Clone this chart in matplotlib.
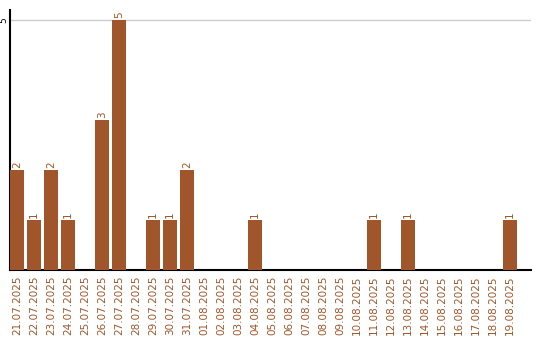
import matplotlib
matplotlib.use('Agg')
import matplotlib.pyplot as plt

dates = ['21.07.2025', '22.07.2025', '23.07.2025', '24.07.2025', '25.07.2025',
         '26.07.2025', '27.07.2025', '28.07.2025', '29.07.2025', '30.07.2025',
         '31.07.2025', '01.08.2025', '02.08.2025', '03.08.2025', '04.08.2025',
         '05.08.2025', '06.08.2025', '07.08.2025', '08.08.2025', '09.08.2025',
         '10.08.2025', '11.08.2025', '12.08.2025', '13.08.2025', '14.08.2025',
         '15.08.2025', '16.08.2025', '17.08.2025', '18.08.2025', '19.08.2025']
counts = [2, 1, 2, 1, 0, 3, 5, 0, 1, 1, 2, 0, 0, 0, 1,
          0, 0, 0, 0, 0, 0, 1, 0, 1, 0, 0, 0, 0, 0, 1]

brown = '#a0562a'

fig = plt.figure(figsize=(5.4, 3.4), dpi=100)
ax = fig.add_axes([10/540, 1-270/340, 521/540, 260/340])

x = list(range(len(dates)))
ax.bar(x, counts, width=0.82, color=brown, zorder=3)
for i, v in zip(x, counts):
    if v > 0:
        ax.text(i, v + 0.04, str(v), rotation=90, ha='center', va='bottom',
                fontsize=7.5, color=brown)

ax.set_xlim(-0.41, 30.24)
ax.set_ylim(0, 5.2)
ax.axhline(5, color='#cccccc', lw=1, zorder=1)

ax.set_xticks(x)
ax.set_xticklabels(dates, rotation=90, fontsize=7.5, color=brown)
ax.set_yticks([5])
ax.set_yticklabels(['5'], rotation=90, fontsize=6.5, va='center', ha='center')
ax.tick_params(axis='x', length=0, pad=4)
ax.tick_params(axis='y', length=0, pad=4.3)

for s in ['top', 'right']:
    ax.spines[s].set_visible(False)
ax.spines['left'].set_linewidth(1.5)
ax.spines['bottom'].set_linewidth(1.5)

fig.savefig('out.png', dpi=100)
